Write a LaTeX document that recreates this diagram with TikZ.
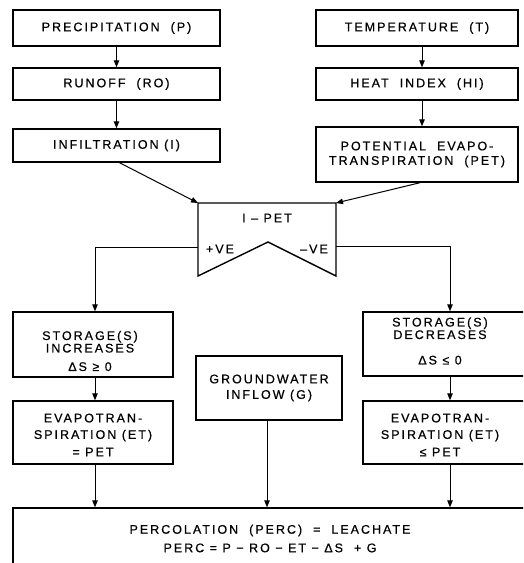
\documentclass[tikz,border=0pt]{standalone}
\usepackage{fontspec}
\setmainfont{Liberation Sans}
\newfontfamily\lettering[LetterSpace=16,FakeBold=0.6]{Liberation Sans}
\usetikzlibrary{arrows.meta}
\begin{document}
\begin{tikzpicture}[x=1pt,y=-1pt,
  box/.style={draw, line width=1.4pt, inner sep=0pt, font=\lettering\fontsize{12.5}{14.5}\selectfont, align=center},
  txt/.style={inner sep=0pt, font=\lettering\fontsize{12.5}{14.5}\selectfont, align=center},
  arr/.style={line width=1pt, -{Triangle[length=7pt,width=5.5pt]}},
  ln/.style={line width=1pt}]
\clip (0,0) rectangle (523,563);
\useasboundingbox (0,0) rectangle (523,563);
% left column
\node[box, minimum width=207, minimum height=36] (p) at (116.5,28) {PRECIPITATION\ \ (P)};
\node[box, minimum width=207, minimum height=32] (ro) at (116.5,84) {RUNOFF\ \ (RO)};
\node[box, minimum width=207, minimum height=33] (inf) at (116.5,145.5) {INFILTRATION\ (I)};
% right column
\node[box, minimum width=202, minimum height=36] (t) at (417,28) {TEMPERATURE\ \ (T)};
\node[box, minimum width=202, minimum height=32] (hi) at (417,84) {HEAT\ \ INDEX\ \ (HI)};
\node[box, minimum width=202, minimum height=55] (pet) at (417,154.5) {POTENTIAL\ \ EVAPO-\\TRANSPIRATION\ \ (PET)};
% I-PET decision shape
\coordinate (dtl) at (198,203);
\coordinate (dtr) at (336,203);
\coordinate (dbr) at (336,276);
\coordinate (dap) at (268,242);
\coordinate (dbl) at (198,276);
\coordinate (dl) at (198,247);
\coordinate (dr) at (336,246);
\draw[line width=1.4pt] (dtl) -- (dtr) -- (dbr) -- (dap) -- (dbl) -- cycle;
\node[txt] (ipet) at (267,218) {I – PET};
\node[txt] (pve) at (220,249) {+VE};
\node[txt] (nve) at (314,249) {–VE};
% storage boxes
\node[box, minimum width=160, minimum height=65] (si) at (93,344.5) {};
\node[txt] (sit) at (90,351) {STORAGE(S)\\[-2pt]INCREASES\\[4pt]ΔS ≥ 0};
\node[box, minimum width=167, minimum height=64] (sd) at (446.5,344) {};
\node[txt] (sdt) at (440,341) {STORAGE(S)\\[-2pt]DECREASES\\[11pt]ΔS ≤ 0};
% ET boxes
\node[box, minimum width=160, minimum height=63] (etl) at (93,432.5) {};
\node[txt] (etlt) at (93,435) {EVAPOTRAN-\\[2pt]SPIRATION (ET)\\[3pt]= PET};
\node[box, minimum width=167, minimum height=63] (etr) at (446.5,432.5) {};
\node[txt] (etrt) at (440,435) {EVAPOTRAN-\\[2pt]SPIRATION (ET)\\[3pt]≤ PET};
% groundwater
\node[box, minimum width=146, minimum height=64] (g) at (269,388) {GROUNDWATER\\[1pt]INFLOW (G)};
% bottom box
\node[box, minimum width=517, minimum height=62] (perc) at (271.5,539) {};
\node[txt] (perct) at (270,538.5) {PERCOLATION\ \ (PERC)\ \ =\ \ LEACHATE\\[4pt]PERC = P − RO − ET − ΔS \ + G};
% connectors
\draw[arr] (p) -- (ro);
\draw[arr] (ro) -- (inf);
\draw[arr] ([xshift=5]t.south) -- ([xshift=5]hi.north);
\draw[arr] ([xshift=5]hi.south) -- ([xshift=5]pet.north);
\draw[arr] ([xshift=3]inf.south) -- (dtl);
\draw[arr] ([xshift=3]pet.south) -- (dtr);
\draw[arr] (dl) -- (dl -| 95,0) -- (95,0 |- si.north);
\draw[arr] (dr) -- (dr -| 450,0) -- (450,0 |- sd.north);
\draw[arr] (si.south -| 95,0) -- (etl.north -| 95,0);
\draw[arr] (sd.south -| 450,0) -- (etr.north -| 450,0);
\draw[arr] (etl.south -| 95,0) -- (perc.north -| 95,0);
\draw[arr] (g.south -| 267,0) -- (perc.north -| 267,0);
\draw[arr] (etr.south -| 450,0) -- (perc.north -| 450,0);
\end{tikzpicture}
\end{document}
